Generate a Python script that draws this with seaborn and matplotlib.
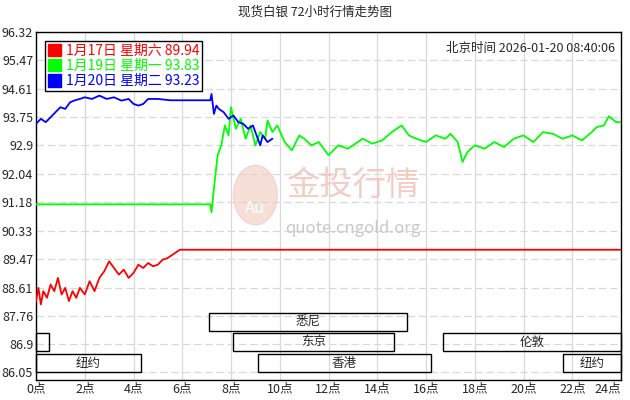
import matplotlib
matplotlib.use("Agg")
import matplotlib.pyplot as plt
import matplotlib.patches as mpatches
import seaborn as sns
import pandas as pd

sns.set_style("white")
plt.rcParams['font.family'] = ['Noto Sans CJK SC', 'DejaVu Sans']

# 1月17日 星期六 (red)
red_x = [0, 0.1, 0.2, 0.3, 0.45, 0.6, 0.75, 0.9, 1.05, 1.2, 1.35, 1.5, 1.65, 1.8, 2.0, 2.2, 2.4, 2.6, 2.8, 3.0,
         3.2, 3.4, 3.6, 3.8, 4.0, 4.2, 4.4, 4.6, 4.8, 5.0, 5.2, 5.4, 5.6, 5.8, 5.9, 24]
red_y = [88.2, 88.6, 88.1, 88.5, 88.3, 88.7, 88.5, 88.9, 88.4, 88.6, 88.2, 88.5, 88.3, 88.6, 88.4, 88.8, 88.5,
         88.9, 89.1, 89.4, 89.2, 89.0, 89.15, 88.9, 89.05, 89.3, 89.2, 89.35, 89.25, 89.3, 89.45, 89.5, 89.6,
         89.7, 89.75, 89.75]

# 1月19日 星期一 (green)
green_x = [0, 7.15, 7.2, 7.3, 7.45, 7.6, 7.75, 7.9, 8.0, 8.2, 8.4, 8.6, 8.8, 9.0, 9.2, 9.4, 9.5, 9.7, 9.9,
           10.2, 10.5, 10.8, 11.0, 11.3, 11.6, 12.0, 12.4, 12.8, 13.0, 13.4, 13.8, 14.2, 14.6, 15.0, 15.3,
           15.6, 16.0, 16.4, 16.8, 17.0, 17.3, 17.5, 17.7, 18.0, 18.4, 18.8, 19.2, 19.6, 20.0, 20.4, 20.8,
           21.2, 21.6, 22.0, 22.4, 22.8, 23.0, 23.3, 23.5, 23.8, 24]
green_y = [91.12, 91.12, 90.88, 91.6, 92.6, 92.9, 93.5, 93.2, 94.05, 93.4, 93.7, 93.1, 93.5, 92.9, 93.3, 93.1,
           93.65, 93.3, 93.5, 93.0, 92.75, 93.2, 93.1, 92.9, 93.0, 92.6, 92.9, 92.8, 92.9, 93.1, 92.95, 93.05,
           93.3, 93.5, 93.2, 93.1, 93.0, 93.2, 93.1, 93.25, 93.0, 92.4, 92.7, 92.9, 92.8, 93.0, 92.85, 93.1,
           93.2, 93.0, 93.3, 93.25, 93.1, 93.2, 93.05, 93.3, 93.45, 93.5, 93.78, 93.6, 93.6]

# 1月20日 星期二 (blue)
blue_x = [0, 0.2, 0.4, 0.6, 0.8, 1.0, 1.2, 1.4, 1.6, 1.8, 2.0, 2.3, 2.6, 2.9, 3.2, 3.5, 3.8, 4.0, 4.2, 4.4,
          4.6, 5.0, 5.5, 6.0, 7.15, 7.2, 7.3, 7.4, 7.5, 7.7, 7.9, 8.1, 8.3, 8.5, 8.7, 8.9, 9.0, 9.2, 9.3,
          9.5, 9.7]
blue_y = [93.55, 93.7, 93.6, 93.75, 93.9, 94.05, 94.0, 94.2, 94.26, 94.3, 94.35, 94.3, 94.4, 94.3, 94.35,
          94.25, 94.3, 94.15, 94.1, 94.15, 94.3, 94.3, 94.26, 94.26, 94.26, 94.45, 93.85, 94.1, 94.0, 93.9,
          93.7, 93.8, 93.6, 93.55, 93.4, 93.5, 93.3, 92.9, 93.2, 93.0, 93.1]

legend_labels = ['1月17日 星期六 89.94', '1月19日 星期一 93.83', '1月20日 星期二 93.23']
colors = ['#ff0000', '#00ff00', '#0000ff']

y_ticks = [86.05, 86.9, 87.76, 88.61, 89.47, 90.33, 91.18, 92.04, 92.9, 93.75, 94.61, 95.47, 96.32]
x_ticks = list(range(0, 25, 2))
x_labels = [f'{h}点' for h in x_ticks]

# market sessions: name, start, end, row
sessions = [('悉尼', 7.1, 15.2, 2), ('', 0, 0.55, 1), ('东京', 8.1, 14.7, 1), ('伦敦', 16.7, 24, 1),
            ('纽约', 0, 4.3, 0), ('香港', 9.1, 16.2, 0), ('纽约', 21.6, 24, 0)]
row_bottom = [86.05, 86.7, 87.29]
row_height = 0.54

fig = plt.figure(figsize=(6.3, 4.0), dpi=100)
ax = fig.add_axes([36 / 630, 20 / 400, 585 / 630, 348 / 400])

for xs, ys, c in zip([red_x, green_x, blue_x], [red_y, green_y, blue_y], colors):
    df = pd.DataFrame({'x': xs, 'y': ys})
    sns.lineplot(data=df, x='x', y='y', ax=ax, color=c, lw=1.3, zorder=3)

ax.set_xlim(0, 24)
ax.set_ylim(85.82, 96.08)
ax.set_xticks(x_ticks)
ax.set_xticklabels(x_labels)
ax.set_yticks(y_ticks)
ax.set_yticklabels([f'{v:g}' for v in y_ticks])
ax.tick_params(labelsize=9, length=0, pad=2)
ax.get_xticklabels()[-1].set_ha('right')
ax.get_xticklabels()[-1].set_x(24.3)
ax.set_xlabel('')
ax.set_ylabel('')
for v in y_ticks:
    ax.axhline(v, color='#d8d8d8', ls=(0, (6, 3)), lw=0.9, zorder=0)
for h in x_ticks:
    ax.axvline(h, color='#d8d8d8', lw=0.9, zorder=0)
for s in ax.spines.values():
    s.set_color('black')
    s.set_linewidth(1)

for name, x0, x1, row in sessions:
    y0 = row_bottom[row]
    ax.add_patch(mpatches.Rectangle((x0, y0), x1 - x0, row_height, fill=False,
                                    ec='black', lw=1, zorder=4, clip_on=False))
    if name:
        ax.text((x0 + x1) / 2, y0 + row_height / 2, name, ha='center', va='center', fontsize=9, zorder=5)

# watermark
ax.add_patch(mpatches.Circle((9.0, 91.4), 0.9, transform=ax.transData, color='#f0c8c0', alpha=0.6, zorder=1))
ax.text(9.0, 91.0, 'Au', ha='center', va='center', fontsize=12, color='white', zorder=2)
ax.text(13.0, 91.7, '金投行情', ha='center', va='center', fontsize=24, color='#f0c0b8', alpha=0.8, zorder=1)
ax.text(13.0, 90.4, 'quote.cngold.org', ha='center', va='center', fontsize=12, color='#c8c8c8', zorder=1)

handles = [mpatches.Patch(color=c) for c in colors]
leg = ax.legend(handles, legend_labels, loc='upper left', bbox_to_anchor=(0.015, 0.975), fontsize=10,
                frameon=True, fancybox=False, edgecolor='black', handlelength=1, handleheight=1,
                handletextpad=0.3, borderpad=0.2, labelspacing=0.1, borderaxespad=0, framealpha=1)
leg.get_frame().set_linewidth(1)
for t, c in zip(leg.get_texts(), colors):
    t.set_color(c)
leg.set_zorder(6)

ax.text(0.99, 0.97, '北京时间 2026-01-20 08:40:06', transform=ax.transAxes, ha='right', va='top', fontsize=9)
fig.text(0.5, 0.985, '现货白银 72小时行情走势图', ha='center', va='top', fontsize=9)

fig.savefig('out.png', dpi=100)
